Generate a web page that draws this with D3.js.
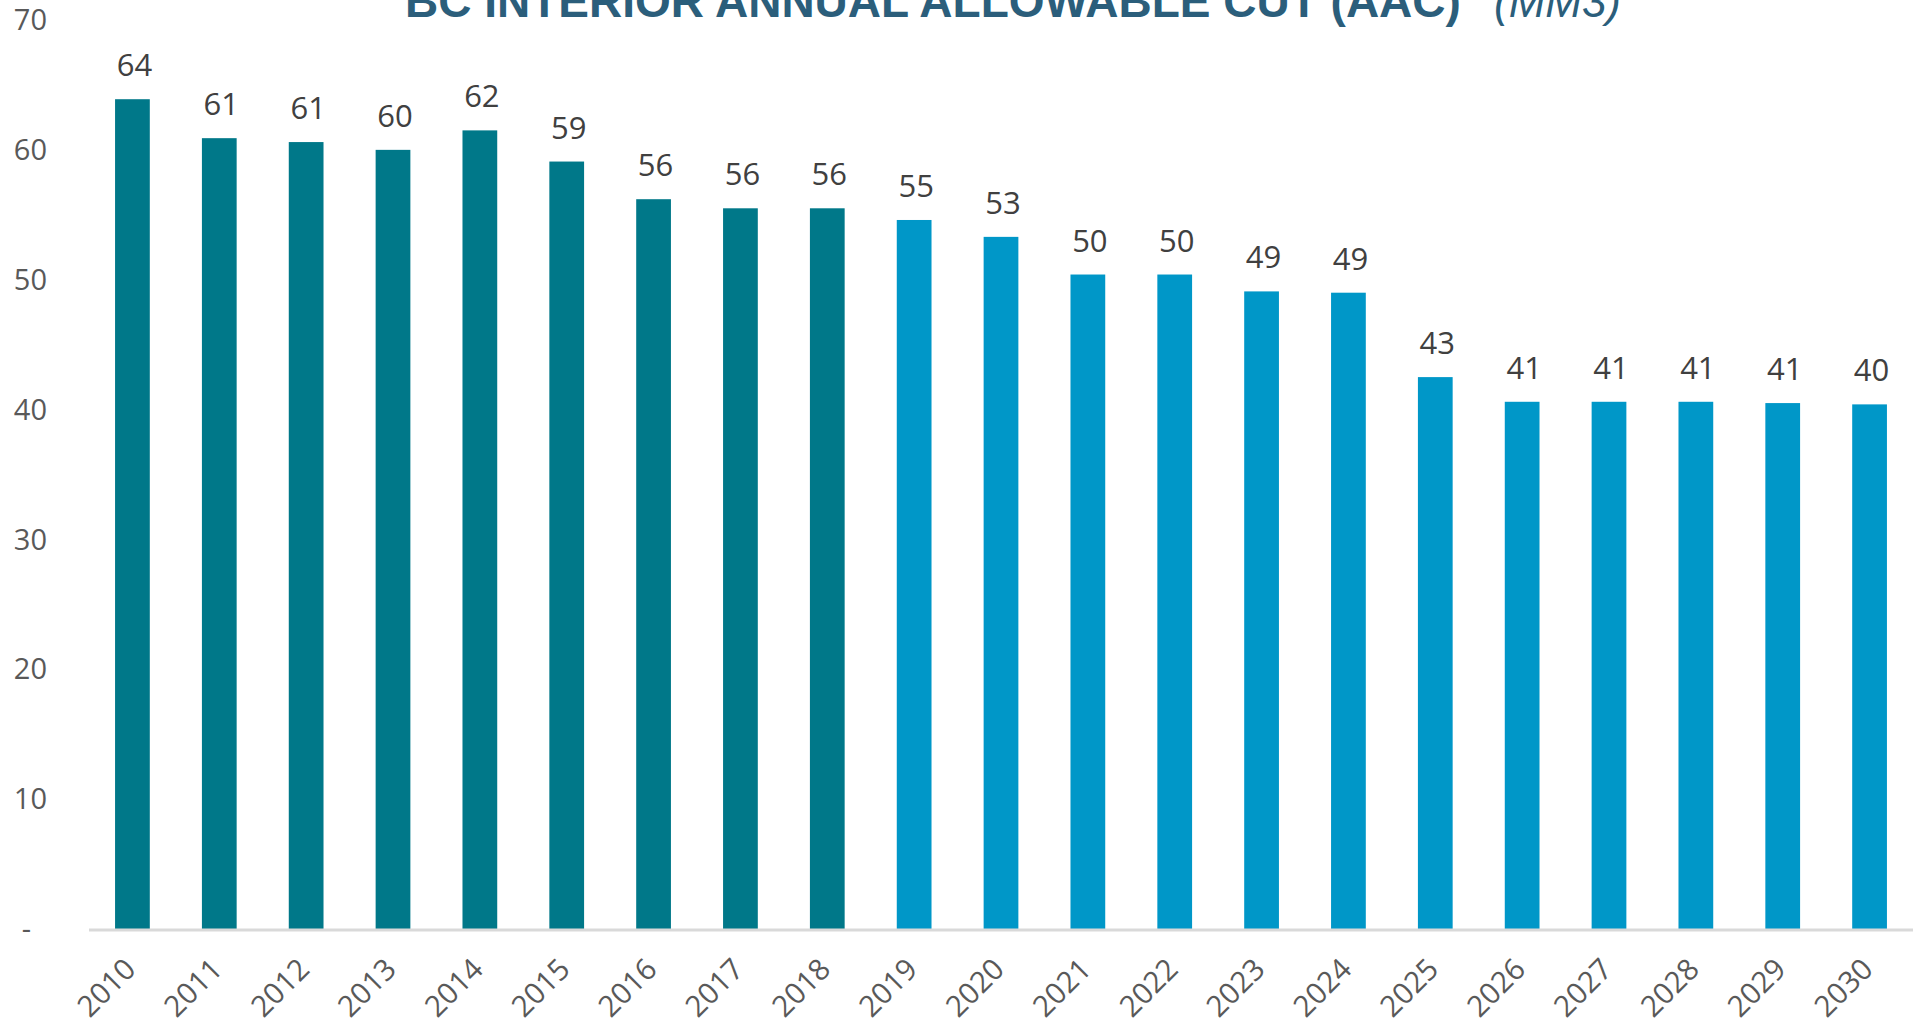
<!DOCTYPE html>
<html>
<head>
<meta charset="utf-8">
<script src="https://cdn.jsdelivr.net/npm/d3@7"></script>
<style>
  html, body { margin: 0; padding: 0; background: #fff; overflow: hidden; }
  svg { display: block; }
</style>
</head>
<body>
<svg id="chart"></svg>
<script>
// years on the x axis
const years = ["2010", "2011", "2012", "2013", "2014", "2015", "2016", "2017", "2018", "2019",
    "2020", "2021", "2022", "2023", "2024", "2025", "2026", "2027", "2028", "2029", "2030"];
// AAC in million m3
const aac = [63.9, 60.9, 60.6, 60.0, 61.5, 59.1, 56.2, 55.5, 55.5, 54.6,
    53.3, 50.4, 50.4, 49.1, 49.0, 42.5, 40.6, 40.6, 40.6, 40.5, 40.4];
// historical years use the dark teal, the forecast the light blue
const lastActual = "2018";
const yTicks = [0, 10, 20, 30, 40, 50, 60, 70];

const w = 1913;
const h = 1025;

const svg = d3.select("#chart").attr("width", w).attr("height", h);

const x = d3.scaleBand().domain(years).range([89, 1913]).paddingInner(0.6).paddingOuter(0.3);
const y = d3.scaleLinear().domain([0, 70]).range([929, 20]);

// title, cut off at the top like in the original
const title = svg.append("text")
    .attr("y", 17)
    .attr("fill", "#2B5E7B")
    .style("font-family", "'Liberation Sans Narrow', 'Arial Narrow', 'Liberation Sans', sans-serif")
    .style("font-size", "52px");

title.append("tspan")
    .attr("x", 405)
    .style("font-weight", "bold")
    .text("BC INTERIOR ANNUAL ALLOWABLE CUT (AAC)");

title.append("tspan")
    .attr("x", 1494)
    .style("font-style", "italic")
    .text("(MM3)");

// squeeze the title parts to the widths seen in the original
title.selectAll("tspan").each(function (d, i) {
    const target = i === 0 ? 1056 : 127;
    const len = this.getComputedTextLength();
    d3.select(this).style("font-size", `${52 * target / len}px`);
});

// y axis labels
svg.append("g")
    .selectAll("text")
    .data(yTicks)
    .enter()
    .append("text")
    .attr("x", (d) => (d === 0 ? 31 : 47))
    .attr("y", (d) => y(d))
    .attr("dy", "0.35em")
    .attr("text-anchor", "end")
    .attr("fill", "#595959")
    .style("font-family", "'Open Sans', sans-serif")
    .style("font-size", "29px")
    .text((d) => (d === 0 ? "-" : d));

// bars
svg.append("g")
    .selectAll("rect")
    .data(years)
    .enter()
    .append("rect")
    .attr("x", (d) => x(d))
    .attr("y", (d, i) => y(aac[i]))
    .attr("width", x.bandwidth())
    .attr("height", (d, i) => y(0) - y(aac[i]))
    .attr("fill", (d) => (+d <= +lastActual ? "#007889" : "#0097C8"));

// x axis line
svg.append("line")
    .attr("x1", 89)
    .attr("x2", w)
    .attr("y1", y(0) + 1)
    .attr("y2", y(0) + 1)
    .attr("stroke", "#D9D9D9")
    .style("stroke-width", "3px");

// data labels
svg.append("g")
    .selectAll("text")
    .data(years)
    .enter()
    .append("text")
    .attr("x", (d) => x(d) + x.bandwidth() / 2 + 2)
    .attr("y", (d, i) => y(aac[i]) - 23)
    .attr("text-anchor", "middle")
    .attr("fill", "#404040")
    .style("font-family", "'Open Sans', sans-serif")
    .style("font-size", "31px")
    .text((d, i) => Math.round(aac[i]));

// year labels, slanted
svg.append("g")
    .selectAll("text")
    .data(years)
    .enter()
    .append("text")
    .attr("transform", (d) => `translate(${x(d) + x.bandwidth() / 2 + 5},971) rotate(-45)`)
    .attr("text-anchor", "end")
    .attr("fill", "#595959")
    .style("font-family", "'Open Sans', sans-serif")
    .style("font-size", "29.5px")
    .text((d) => d);
</script>
</body>
</html>
